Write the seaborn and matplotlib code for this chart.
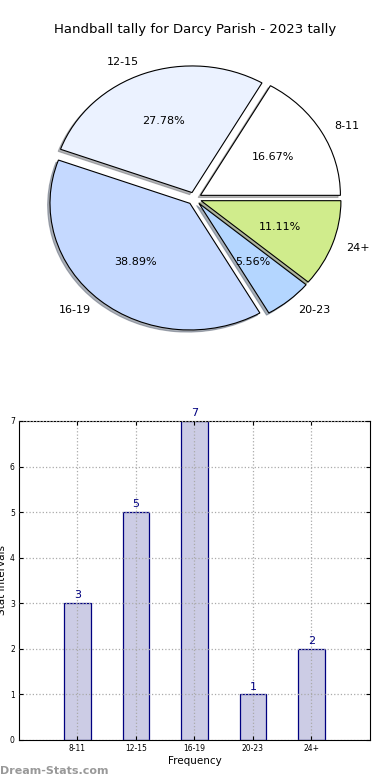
import numpy as np
import pandas as pd
import matplotlib
matplotlib.use('Agg')
import matplotlib.pyplot as plt
import seaborn as sns

intervals = ['8-11', '12-15', '16-19', '20-23', '24+']
counts = [3, 5, 7, 1, 2]
pie_colors = ['#FFFFFF', '#EBF2FF', '#C5D9FF', '#B4D6FF', '#D0EC8C']

df = pd.DataFrame({'Interval': intervals, 'Count': counts})

fig = plt.figure(figsize=(3.9, 7.8), dpi=100)

# pie (elliptical, like the old screenshot)
ax1 = fig.add_axes([0.05, 0.5426, 0.897, 0.4058])
ax1.pie(counts, labels=intervals, colors=pie_colors, explode=[0.05] * 5,
        autopct='%.2f%%', shadow={'ox': -0.012, 'oy': -0.012, 'shade': 0.55},
        startangle=0,
        wedgeprops={'edgecolor': 'black', 'linewidth': 0.8},
        textprops={'fontsize': 8})
ax1.set_aspect('auto')
ax1.set_xlim(-1.25, 1.25)
ax1.set_ylim(-1.25, 1.25)
fig.text(0.5, 1 - 30 / 780, 'Handball tally for Darcy Parish - 2023 tally',
         ha='center', va='center', fontsize=9.5)

# bars
ax2 = fig.add_axes([0.0487, 0.0513, 0.9, 0.409])
sns.barplot(x='Interval', y='Count', data=df, order=intervals, ax=ax2,
            color='#CCCCE5', saturation=1, width=0.45,
            edgecolor='navy', linewidth=0.9)
ax2.bar_label(ax2.containers[0], padding=2, color='navy', fontsize=8)
ax2.set_xlim(-1, 5)
ax2.set_ylim(0, 7)
ax2.set_yticks(range(0, 8))
ax2.grid(True, linestyle=':', color='#aaaaaa', linewidth=0.9)
ax2.set_axisbelow(False)
ax2.tick_params(direction='in', top=True, right=True, labelsize=5.5, length=3, pad=3)
ax2.set_xlabel('Frequency', fontsize=7.5, labelpad=2)
ax2.set_ylabel('Stat Intervals', fontsize=7.5, labelpad=2)
for s in ax2.spines.values():
    s.set_color('black')

fig.text(0.0, 1 - 771 / 780, 'Dream-Stats.com', ha='left', va='center',
         fontsize=8, color='#999999', fontweight='bold')

fig.savefig('out.png', dpi=100)
